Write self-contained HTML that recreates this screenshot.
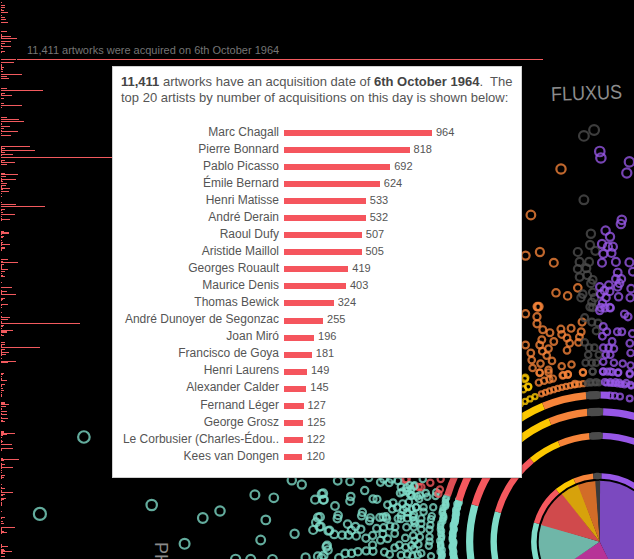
<!DOCTYPE html>
<html><head><meta charset="utf-8">
<style>
html,body{margin:0;padding:0;background:#000;width:634px;height:559px;overflow:hidden;font-family:"Liberation Sans",sans-serif;}
#bg{position:absolute;left:0;top:0;}
#hdr{position:absolute;left:27px;top:44px;font-size:11px;color:#757575;white-space:nowrap;line-height:13px;}
#box{position:absolute;left:112px;top:66px;width:408px;height:410px;background:#fff;border:1px solid #d0d0d0;box-shadow:1px 1px 1px rgba(0,0,0,0.15);}
#intro{position:absolute;left:8px;top:7px;font-size:13px;line-height:16px;color:#555;white-space:nowrap;}
#intro b{color:#444;}
.row{position:absolute;left:0;height:17px;width:408px;}
.nm{position:absolute;right:242px;top:0;font-size:12px;line-height:14px;color:#555;white-space:nowrap;}
.bar{position:absolute;left:171px;height:6px;background:#f5555d;}
.val{position:absolute;top:0px;font-size:11px;line-height:14px;color:#555;white-space:nowrap;}
#ph{position:absolute;left:169.5px;top:542px;font-size:18px;line-height:18px;color:#8a8a8a;transform:rotate(90deg);transform-origin:0 0;white-space:nowrap;}
#flux{position:absolute;left:551px;top:82.5px;font-size:20px;line-height:23px;color:#8c8c8c;transform:rotate(-2deg) scaleX(0.9);transform-origin:0 50%;white-space:nowrap;}
</style></head><body>
<svg id="bg" width="634" height="559" viewBox="0 0 634 559">
<g id="left" fill="#f25a5e"><rect x="1" y="2" width="1.0" height="1"/><rect x="1" y="5" width="4.0" height="1"/><rect x="1" y="7" width="4.0" height="1"/><rect x="1" y="9" width="1.0" height="1"/><rect x="1" y="10" width="3.0" height="1"/><rect x="1" y="12" width="7.0" height="1"/><rect x="1" y="15" width="1.0" height="1"/><rect x="1" y="17" width="4.0" height="1"/><rect x="1" y="19" width="5.0" height="1"/><rect x="1" y="22" width="7.0" height="1"/><rect x="1" y="31" width="6.0" height="1"/><rect x="1" y="34" width="1.0" height="1"/><rect x="1" y="35" width="1.0" height="1"/><rect x="1" y="36" width="10.0" height="1"/><rect x="1" y="37" width="1.0" height="1"/><rect x="1" y="38" width="16.0" height="1"/><rect x="1" y="41" width="10.0" height="1"/><rect x="1" y="43" width="4.0" height="1"/><rect x="1" y="45" width="1.0" height="1"/><rect x="1" y="46" width="10.0" height="1"/><rect x="1" y="48" width="2.0" height="1"/><rect x="1" y="51" width="4.0" height="1"/><rect x="1" y="52" width="1.0" height="1"/><rect x="1" y="59" width="15.0" height="1"/><rect x="1" y="62" width="13.0" height="1"/><rect x="1" y="64" width="1.0" height="1"/><rect x="1" y="65" width="1.0" height="1"/><rect x="1" y="66" width="1.0" height="1"/><rect x="1" y="67" width="3.0" height="1"/><rect x="1" y="68" width="1.0" height="1"/><rect x="1" y="69" width="2.0" height="1"/><rect x="1" y="71" width="2.0" height="1"/><rect x="1" y="74" width="21.0" height="1"/><rect x="1" y="76" width="6.0" height="1"/><rect x="1" y="78" width="8.0" height="1"/><rect x="1" y="88" width="6.0" height="1"/><rect x="1" y="90" width="42.0" height="1"/><rect x="1" y="93" width="4.0" height="1"/><rect x="1" y="94" width="1.0" height="1"/><rect x="1" y="95" width="11.0" height="1"/><rect x="1" y="98" width="3.0" height="1"/><rect x="1" y="103" width="3.0" height="1"/><rect x="1" y="105" width="21.0" height="1"/><rect x="1" y="107" width="1.0" height="1"/><rect x="1" y="117" width="6.0" height="1"/><rect x="1" y="119" width="18.0" height="1"/><rect x="1" y="121" width="23.0" height="1"/><rect x="1" y="123" width="1.0" height="1"/><rect x="1" y="124" width="1.0" height="1"/><rect x="1" y="126" width="9.0" height="1"/><rect x="1" y="128" width="3.0" height="1"/><rect x="1" y="130" width="1.0" height="1"/><rect x="1" y="131" width="17.0" height="1"/><rect x="1" y="133" width="1.0" height="1"/><rect x="1" y="135" width="10.0" height="1"/><rect x="1" y="146" width="29.0" height="1"/><rect x="1" y="147" width="1.0" height="1"/><rect x="1" y="148" width="4.0" height="1"/><rect x="1" y="149" width="1.0" height="1"/><rect x="1" y="150" width="34.0" height="1"/><rect x="1" y="151" width="1.0" height="1"/><rect x="1" y="152" width="4.0" height="1"/><rect x="1" y="154" width="12.0" height="1"/><rect x="1" y="155" width="1.0" height="1"/><rect x="1" y="157" width="111.0" height="1"/><rect x="1" y="160" width="4.0" height="1"/><rect x="1" y="161" width="1.0" height="1"/><rect x="1" y="162" width="14.0" height="1"/><rect x="1" y="164" width="6.0" height="1"/><rect x="1" y="173" width="4.0" height="1"/><rect x="1" y="174" width="17.0" height="1"/><rect x="1" y="176" width="5.0" height="1"/><rect x="1" y="178" width="1.0" height="1"/><rect x="1" y="179" width="15.0" height="1"/><rect x="1" y="180" width="1.0" height="1"/><rect x="1" y="181" width="2.0" height="1"/><rect x="1" y="183" width="6.0" height="1"/><rect x="1" y="185" width="5.0" height="1"/><rect x="1" y="186" width="1.0" height="1"/><rect x="1" y="187" width="1.0" height="1"/><rect x="1" y="188" width="9.0" height="1"/><rect x="1" y="189" width="2.0" height="1"/><rect x="1" y="191" width="8.0" height="1"/><rect x="1" y="193" width="1.0" height="1"/><rect x="1" y="196" width="1.0" height="1"/><rect x="1" y="202" width="1.0" height="1"/><rect x="1" y="204" width="15.0" height="1"/><rect x="1" y="206" width="44.0" height="1"/><rect x="1" y="209" width="4.0" height="1"/><rect x="1" y="210" width="1.0" height="1"/><rect x="1" y="212" width="2.0" height="1"/><rect x="1" y="214" width="14.0" height="1"/><rect x="1" y="216" width="1.0" height="1"/><rect x="1" y="218" width="1.0" height="1"/><rect x="1" y="219" width="9.0" height="1"/><rect x="1" y="220" width="1.0" height="1"/><rect x="1" y="231" width="3.0" height="1"/><rect x="1" y="232" width="8.0" height="1"/><rect x="1" y="233" width="8.0" height="1"/><rect x="1" y="234" width="1.0" height="1"/><rect x="1" y="236" width="3.0" height="1"/><rect x="1" y="237" width="2.0" height="1"/><rect x="1" y="240" width="1.0" height="1"/><rect x="1" y="242" width="2.0" height="1"/><rect x="1" y="243" width="1.0" height="1"/><rect x="1" y="244" width="9.0" height="1"/><rect x="1" y="245" width="1.0" height="1"/><rect x="1" y="247" width="4.0" height="1"/><rect x="1" y="248" width="4.0" height="1"/><rect x="1" y="249" width="1.0" height="1"/><rect x="1" y="250" width="1.0" height="1"/><rect x="1" y="259" width="7.0" height="1"/><rect x="1" y="261" width="2.0" height="1"/><rect x="1" y="262" width="17.0" height="1"/><rect x="1" y="264" width="3.0" height="1"/><rect x="1" y="265" width="1.0" height="1"/><rect x="1" y="266" width="1.0" height="1"/><rect x="1" y="267" width="1.0" height="1"/><rect x="1" y="268" width="1.0" height="1"/><rect x="1" y="269" width="7.0" height="1"/><rect x="1" y="271" width="4.0" height="1"/><rect x="1" y="273" width="1.0" height="1"/><rect x="1" y="275" width="2.0" height="1"/><rect x="1" y="276" width="4.0" height="1"/><rect x="1" y="282" width="1.0" height="1"/><rect x="1" y="287" width="11.0" height="1"/><rect x="1" y="290" width="1.0" height="1"/><rect x="1" y="291" width="6.0" height="1"/><rect x="1" y="292" width="1.0" height="1"/><rect x="1" y="293" width="1.0" height="1"/><rect x="1" y="294" width="15.0" height="1"/><rect x="1" y="298" width="4.0" height="1"/><rect x="1" y="299" width="2.0" height="1"/><rect x="1" y="300" width="1.0" height="1"/><rect x="1" y="304" width="7.0" height="1"/><rect x="1" y="305" width="1.0" height="1"/><rect x="1" y="307" width="1.0" height="1"/><rect x="1" y="312" width="1.0" height="1"/><rect x="1" y="316" width="1.0" height="1"/><rect x="1" y="317" width="9.0" height="1"/><rect x="1" y="319" width="7.0" height="1"/><rect x="1" y="321" width="1.0" height="1"/><rect x="1" y="322" width="1.0" height="1"/><rect x="1" y="323" width="79.0" height="1"/><rect x="1" y="325" width="3.0" height="1"/><rect x="1" y="326" width="2.0" height="1"/><rect x="1" y="328" width="1.0" height="1"/><rect x="1" y="330" width="12.0" height="1"/><rect x="1" y="331" width="6.0" height="1"/><rect x="1" y="332" width="6.0" height="1"/><rect x="1" y="334" width="1.0" height="1"/><rect x="1" y="335" width="3.0" height="1"/><rect x="1" y="342" width="4.0" height="1"/><rect x="1" y="344" width="4.0" height="1"/><rect x="1" y="345" width="1.0" height="1"/><rect x="1" y="346" width="1.0" height="1"/><rect x="1" y="347" width="39.0" height="1"/><rect x="1" y="349" width="4.0" height="1"/><rect x="1" y="350" width="1.0" height="1"/><rect x="1" y="351" width="1.0" height="1"/><rect x="1" y="352" width="8.0" height="1"/><rect x="1" y="353" width="1.0" height="1"/><rect x="1" y="354" width="5.0" height="1"/><rect x="1" y="355" width="1.0" height="1"/><rect x="1" y="358" width="1.0" height="1"/><rect x="1" y="361" width="15.0" height="1"/><rect x="1" y="362" width="7.0" height="1"/><rect x="1" y="373" width="3.0" height="1"/><rect x="1" y="374" width="2.0" height="1"/><rect x="1" y="376" width="1.0" height="1"/><rect x="1" y="378" width="1.0" height="1"/><rect x="1" y="379" width="1.0" height="1"/><rect x="1" y="380" width="6.0" height="1"/><rect x="1" y="384" width="4.0" height="1"/><rect x="1" y="385" width="1.0" height="1"/><rect x="1" y="386" width="1.0" height="1"/><rect x="1" y="388" width="2.0" height="1"/><rect x="1" y="390" width="3.0" height="1"/><rect x="1" y="392" width="1.0" height="1"/><rect x="1" y="394" width="1.0" height="1"/><rect x="1" y="395" width="1.0" height="1"/><rect x="1" y="396" width="1.0" height="1"/><rect x="1" y="402" width="4.0" height="1"/><rect x="1" y="403" width="4.0" height="1"/><rect x="1" y="404" width="8.0" height="1"/><rect x="1" y="406" width="5.0" height="1"/><rect x="1" y="408" width="1.0" height="1"/><rect x="1" y="409" width="1.0" height="1"/><rect x="1" y="411" width="6.0" height="1"/><rect x="1" y="413" width="1.0" height="1"/><rect x="1" y="414" width="6.0" height="1"/><rect x="1" y="417" width="1.0" height="1"/><rect x="1" y="418" width="7.0" height="1"/><rect x="1" y="420" width="2.0" height="1"/><rect x="1" y="421" width="4.0" height="1"/><rect x="1" y="431" width="3.0" height="1"/><rect x="1" y="432" width="3.0" height="1"/><rect x="1" y="433" width="14.0" height="1"/><rect x="1" y="434" width="6.0" height="1"/><rect x="1" y="435" width="2.0" height="1"/><rect x="1" y="437" width="1.0" height="1"/><rect x="1" y="440" width="1.0" height="1"/><rect x="1" y="441" width="2.0" height="1"/><rect x="1" y="442" width="1.0" height="1"/><rect x="1" y="444" width="11.0" height="1"/><rect x="1" y="448" width="12.0" height="1"/><rect x="1" y="449" width="1.0" height="1"/><rect x="1" y="450" width="1.0" height="1"/><rect x="1" y="458" width="2.0" height="1"/><rect x="1" y="459" width="18.0" height="1"/><rect x="1" y="460" width="3.0" height="1"/><rect x="1" y="463" width="1.0" height="1"/><rect x="1" y="464" width="4.0" height="1"/><rect x="1" y="465" width="1.0" height="1"/><rect x="1" y="466" width="1.0" height="1"/><rect x="1" y="467" width="12.0" height="1"/><rect x="1" y="468" width="1.0" height="1"/><rect x="1" y="470" width="1.0" height="1"/><rect x="1" y="472" width="1.0" height="1"/><rect x="1" y="475" width="4.0" height="1"/><rect x="1" y="476" width="1.0" height="1"/><rect x="1" y="477" width="3.0" height="1"/><rect x="1" y="478" width="1.0" height="1"/><rect x="1" y="484" width="1.0" height="1"/><rect x="1" y="487" width="1.0" height="1"/><rect x="1" y="488" width="4.0" height="1"/><rect x="1" y="490" width="1.0" height="1"/><rect x="1" y="491" width="1.0" height="1"/><rect x="1" y="492" width="12.0" height="1"/><rect x="1" y="494" width="4.0" height="1"/><rect x="1" y="495" width="2.0" height="1"/><rect x="1" y="498" width="5.0" height="1"/><rect x="1" y="499" width="3.0" height="1"/><rect x="1" y="500" width="1.0" height="1"/><rect x="1" y="502" width="1.0" height="1"/><rect x="1" y="503" width="1.0" height="1"/><rect x="1" y="504" width="1.0" height="1"/><rect x="1" y="505" width="1.0" height="1"/><rect x="1" y="511" width="1.0" height="1"/><rect x="1" y="517" width="4.0" height="1"/><rect x="1" y="518" width="1.0" height="1"/><rect x="1" y="521" width="2.0" height="1"/><rect x="1" y="523" width="3.0" height="1"/><rect x="1" y="527" width="14.0" height="1"/><rect x="1" y="528" width="1.0" height="1"/><rect x="1" y="529" width="1.0" height="1"/><rect x="1" y="530" width="1.0" height="1"/><rect x="1" y="531" width="3.0" height="1"/><rect x="1" y="532" width="6.0" height="1"/><rect x="1" y="533" width="1.0" height="1"/><rect x="1" y="544" width="1.0" height="1"/><rect x="1" y="545" width="1.0" height="1"/><rect x="1" y="546" width="7.0" height="1"/><rect x="1" y="547" width="1.0" height="1"/><rect x="1" y="549" width="3.0" height="1"/><rect x="1" y="550" width="4.0" height="1"/><rect x="1" y="551" width="11.0" height="1"/><rect x="1" y="552" width="2.0" height="1"/><rect x="1" y="553" width="4.0" height="1"/><rect x="1" y="556" width="4.0" height="1"/></g>
<rect x="17" y="59" width="526" height="1" fill="#f25a5e"/>
<path d="M599.7,541.8L599.27,480.80A61,61 0 0 1 626.06,596.81Z" fill="#7b49bf"/>
<path d="M599.7,541.8L626.82,596.44A61,61 0 0 1 548.89,575.56Z" fill="#b73397"/>
<path d="M599.7,541.8L549.37,576.26A61,61 0 0 1 541.33,524.07Z" fill="#6fb6a8"/>
<path d="M599.7,541.8L541.09,524.88A61,61 0 0 1 562.48,493.47Z" fill="#d04a4c"/>
<path d="M599.7,541.8L561.81,493.99A61,61 0 0 1 578.54,484.59Z" fill="#d7a20b"/>
<path d="M599.7,541.8L577.74,484.89A61,61 0 0 1 596.08,480.91Z" fill="#d26c28"/>
<path d="M599.7,541.8L595.23,480.96A61,61 0 0 1 600.13,480.80Z" fill="#3a3a3a"/>
<path d="M549.29,584.10A65.8,65.8 0 0 1 536.54,523.33" stroke="#7fdcc9" stroke-width="5.6" fill="none" opacity="1.0"/>
<path d="M536.54,523.33A65.8,65.8 0 0 1 557.58,491.25" stroke="#f5585e" stroke-width="5.6" fill="none" opacity="1.0"/>
<path d="M557.58,491.25A65.8,65.8 0 0 1 574.52,481.01" stroke="#fcc800" stroke-width="5.6" fill="none" opacity="1.0"/>
<path d="M574.52,481.01A65.8,65.8 0 0 1 593.39,476.30" stroke="#f6843a" stroke-width="5.6" fill="none" opacity="1.0"/>
<path d="M593.39,476.30A65.8,65.8 0 0 1 601.42,476.02" stroke="#4b4b4b" stroke-width="5.6" fill="none" opacity="1.0"/>
<path d="M601.42,476.02A65.8,65.8 0 0 1 656.68,508.90" stroke="#9757e6" stroke-width="5.6" fill="none" opacity="1.0"/>
<path d="M518.50,609.94A106,106 0 0 1 497.96,512.05" stroke="#7fdcc9" stroke-width="6.4" fill="none" opacity="1.0"/>
<path d="M497.96,512.05A106,106 0 0 1 531.85,460.36" stroke="#f5585e" stroke-width="6.4" fill="none" opacity="1.0"/>
<path d="M531.85,460.36A106,106 0 0 1 559.14,443.87" stroke="#fcc800" stroke-width="6.4" fill="none" opacity="1.0"/>
<path d="M559.14,443.87A106,106 0 0 1 589.54,436.29" stroke="#f6843a" stroke-width="6.4" fill="none" opacity="1.0"/>
<path d="M589.54,436.29A106,106 0 0 1 602.47,435.84" stroke="#4b4b4b" stroke-width="6.4" fill="none" opacity="1.0"/>
<path d="M602.47,435.84A106,106 0 0 1 691.50,488.80" stroke="#9757e6" stroke-width="6.4" fill="none" opacity="1.0"/>
<path d="M500.11,625.36A130,130 0 0 1 474.93,505.31" stroke="#7fdcc9" stroke-width="7.2" fill="none" opacity="1.0"/>
<path d="M474.93,505.31A130,130 0 0 1 516.49,441.92" stroke="#f5585e" stroke-width="7.2" fill="none" opacity="1.0"/>
<path d="M516.49,441.92A130,130 0 0 1 549.95,421.70" stroke="#fcc800" stroke-width="7.2" fill="none" opacity="1.0"/>
<path d="M549.95,421.70A130,130 0 0 1 587.24,412.40" stroke="#f6843a" stroke-width="7.2" fill="none" opacity="1.0"/>
<path d="M587.24,412.40A130,130 0 0 1 603.10,411.84" stroke="#4b4b4b" stroke-width="7.2" fill="none" opacity="1.0"/>
<path d="M603.10,411.84A130,130 0 0 1 712.28,476.80" stroke="#9757e6" stroke-width="7.2" fill="none" opacity="1.0"/>
<circle cx="459.62" cy="584.63" r="2.5" fill="none" stroke="#7fdcc9" stroke-width="2.6" stroke-opacity="0.85"/>
<circle cx="458.70" cy="583.63" r="2.5" fill="none" stroke="#7fdcc9" stroke-width="2.6" stroke-opacity="0.85"/>
<circle cx="458.59" cy="582.50" r="2.5" fill="none" stroke="#7fdcc9" stroke-width="2.6" stroke-opacity="0.85"/>
<circle cx="459.01" cy="580.83" r="2.5" fill="none" stroke="#7fdcc9" stroke-width="2.6" stroke-opacity="0.85"/>
<circle cx="458.61" cy="579.21" r="2.5" fill="none" stroke="#7fdcc9" stroke-width="2.6" stroke-opacity="0.85"/>
<circle cx="458.16" cy="577.71" r="2.5" fill="none" stroke="#7fdcc9" stroke-width="2.6" stroke-opacity="0.85"/>
<circle cx="457.26" cy="576.76" r="2.5" fill="none" stroke="#7fdcc9" stroke-width="2.6" stroke-opacity="0.85"/>
<circle cx="457.31" cy="574.61" r="2.5" fill="none" stroke="#7fdcc9" stroke-width="2.6" stroke-opacity="0.85"/>
<circle cx="456.14" cy="573.53" r="2.5" fill="none" stroke="#7fdcc9" stroke-width="2.6" stroke-opacity="0.85"/>
<circle cx="455.76" cy="571.32" r="2.5" fill="none" stroke="#7fdcc9" stroke-width="2.6" stroke-opacity="0.85"/>
<circle cx="454.75" cy="569.96" r="2.5" fill="none" stroke="#7fdcc9" stroke-width="2.6" stroke-opacity="0.85"/>
<circle cx="454.76" cy="568.84" r="2.5" fill="none" stroke="#7fdcc9" stroke-width="2.6" stroke-opacity="0.85"/>
<circle cx="455.77" cy="567.24" r="2.5" fill="none" stroke="#7fdcc9" stroke-width="2.6" stroke-opacity="0.85"/>
<circle cx="455.28" cy="566.14" r="2.5" fill="none" stroke="#7fdcc9" stroke-width="2.6" stroke-opacity="0.85"/>
<circle cx="455.18" cy="564.06" r="2.5" fill="none" stroke="#7fdcc9" stroke-width="2.6" stroke-opacity="0.85"/>
<circle cx="454.10" cy="562.43" r="2.5" fill="none" stroke="#7fdcc9" stroke-width="2.6" stroke-opacity="0.85"/>
<circle cx="454.06" cy="560.92" r="2.5" fill="none" stroke="#7fdcc9" stroke-width="2.6" stroke-opacity="0.85"/>
<circle cx="454.80" cy="559.72" r="2.5" fill="none" stroke="#7fdcc9" stroke-width="2.6" stroke-opacity="0.85"/>
<circle cx="453.53" cy="558.57" r="2.5" fill="none" stroke="#7fdcc9" stroke-width="2.6" stroke-opacity="0.85"/>
<circle cx="454.02" cy="556.94" r="2.5" fill="none" stroke="#7fdcc9" stroke-width="2.6" stroke-opacity="0.85"/>
<circle cx="453.60" cy="555.20" r="2.5" fill="none" stroke="#7fdcc9" stroke-width="2.6" stroke-opacity="0.85"/>
<circle cx="452.86" cy="553.85" r="2.5" fill="none" stroke="#7fdcc9" stroke-width="2.6" stroke-opacity="0.85"/>
<circle cx="453.71" cy="551.86" r="2.5" fill="none" stroke="#7fdcc9" stroke-width="2.6" stroke-opacity="0.85"/>
<circle cx="453.09" cy="550.13" r="2.5" fill="none" stroke="#7fdcc9" stroke-width="2.6" stroke-opacity="0.85"/>
<circle cx="452.62" cy="548.00" r="2.5" fill="none" stroke="#7fdcc9" stroke-width="2.6" stroke-opacity="0.85"/>
<circle cx="452.11" cy="546.62" r="2.5" fill="none" stroke="#7fdcc9" stroke-width="2.6" stroke-opacity="0.85"/>
<circle cx="453.09" cy="545.41" r="2.5" fill="none" stroke="#7fdcc9" stroke-width="2.6" stroke-opacity="0.85"/>
<circle cx="453.54" cy="543.42" r="2.5" fill="none" stroke="#7fdcc9" stroke-width="2.6" stroke-opacity="0.85"/>
<circle cx="453.73" cy="541.77" r="2.5" fill="none" stroke="#7fdcc9" stroke-width="2.6" stroke-opacity="0.85"/>
<circle cx="452.44" cy="539.89" r="2.5" fill="none" stroke="#7fdcc9" stroke-width="2.6" stroke-opacity="0.85"/>
<circle cx="452.27" cy="538.12" r="2.5" fill="none" stroke="#7fdcc9" stroke-width="2.6" stroke-opacity="0.85"/>
<circle cx="452.64" cy="536.69" r="2.5" fill="none" stroke="#7fdcc9" stroke-width="2.6" stroke-opacity="0.85"/>
<circle cx="452.92" cy="534.92" r="2.5" fill="none" stroke="#7fdcc9" stroke-width="2.6" stroke-opacity="0.85"/>
<circle cx="452.53" cy="533.28" r="2.5" fill="none" stroke="#7fdcc9" stroke-width="2.6" stroke-opacity="0.85"/>
<circle cx="453.34" cy="531.09" r="2.5" fill="none" stroke="#7fdcc9" stroke-width="2.6" stroke-opacity="0.85"/>
<circle cx="454.23" cy="529.28" r="2.5" fill="none" stroke="#7fdcc9" stroke-width="2.6" stroke-opacity="0.85"/>
<circle cx="453.35" cy="527.27" r="2.5" fill="none" stroke="#7fdcc9" stroke-width="2.6" stroke-opacity="0.85"/>
<circle cx="453.29" cy="524.95" r="2.5" fill="none" stroke="#7fdcc9" stroke-width="2.6" stroke-opacity="0.85"/>
<circle cx="454.23" cy="523.66" r="2.5" fill="none" stroke="#7fdcc9" stroke-width="2.6" stroke-opacity="0.85"/>
<circle cx="455.12" cy="521.89" r="2.5" fill="none" stroke="#7fdcc9" stroke-width="2.6" stroke-opacity="0.85"/>
<circle cx="455.09" cy="520.26" r="2.5" fill="none" stroke="#7fdcc9" stroke-width="2.6" stroke-opacity="0.85"/>
<circle cx="455.46" cy="519.13" r="2.5" fill="none" stroke="#7fdcc9" stroke-width="2.6" stroke-opacity="0.85"/>
<circle cx="455.66" cy="517.14" r="2.5" fill="none" stroke="#7fdcc9" stroke-width="2.6" stroke-opacity="0.85"/>
<circle cx="455.43" cy="515.74" r="2.5" fill="none" stroke="#7fdcc9" stroke-width="2.6" stroke-opacity="0.85"/>
<circle cx="456.37" cy="513.75" r="2.5" fill="none" stroke="#7fdcc9" stroke-width="2.6" stroke-opacity="0.85"/>
<circle cx="455.86" cy="512.01" r="2.5" fill="none" stroke="#7fdcc9" stroke-width="2.6" stroke-opacity="0.85"/>
<circle cx="455.84" cy="509.80" r="2.5" fill="none" stroke="#7fdcc9" stroke-width="2.6" stroke-opacity="0.85"/>
<circle cx="457.27" cy="507.94" r="2.5" fill="none" stroke="#7fdcc9" stroke-width="2.6" stroke-opacity="0.85"/>
<circle cx="457.50" cy="506.39" r="2.5" fill="none" stroke="#7fdcc9" stroke-width="2.6" stroke-opacity="0.85"/>
<circle cx="456.99" cy="504.03" r="2.5" fill="none" stroke="#7fdcc9" stroke-width="2.6" stroke-opacity="0.85"/>
<circle cx="458.66" cy="503.22" r="2.5" fill="none" stroke="#7fdcc9" stroke-width="2.6" stroke-opacity="0.85"/>
<circle cx="458.92" cy="501.92" r="2.5" fill="none" stroke="#7fdcc9" stroke-width="2.6" stroke-opacity="0.85"/>
<circle cx="458.76" cy="500.17" r="2.5" fill="none" stroke="#7fdcc9" stroke-width="2.6" stroke-opacity="0.85"/>
<path d="M458.80,500.60A146.8,146.8 0 0 1 505.73,429.02" stroke="#f5585e" stroke-width="7.2" fill="none" opacity="1.0"/>
<path d="M505.73,429.02A146.8,146.8 0 0 1 543.52,406.17" stroke="#fcc800" stroke-width="7.2" fill="none" opacity="1.0"/>
<path d="M543.52,406.17A146.8,146.8 0 0 1 586.14,395.63" stroke="#f6843a" stroke-width="7.2" fill="none" opacity="1.0"/>
<path d="M586.14,395.63A146.8,146.8 0 0 1 600.47,395.00" stroke="#4b4b4b" stroke-width="7.2" fill="none" opacity="1.0"/>
<path d="M600.47,395.00A146.8,146.8 0 0 1 609.94,395.36" stroke="#9757e6" stroke-width="7.2" fill="none" opacity="1.0"/>
<circle cx="451.50" cy="595.74" r="2.5" fill="none" stroke="#7fdcc9" stroke-width="2.5" stroke-opacity="0.8"/>
<circle cx="449.91" cy="594.11" r="2.5" fill="none" stroke="#7fdcc9" stroke-width="2.5" stroke-opacity="0.8"/>
<circle cx="447.72" cy="592.38" r="2.5" fill="none" stroke="#7fdcc9" stroke-width="2.5" stroke-opacity="0.8"/>
<circle cx="448.02" cy="589.61" r="2.5" fill="none" stroke="#7fdcc9" stroke-width="2.5" stroke-opacity="0.8"/>
<circle cx="446.91" cy="587.42" r="2.5" fill="none" stroke="#7fdcc9" stroke-width="2.5" stroke-opacity="0.8"/>
<circle cx="445.93" cy="586.16" r="2.5" fill="none" stroke="#7fdcc9" stroke-width="2.5" stroke-opacity="0.8"/>
<circle cx="445.27" cy="583.54" r="2.5" fill="none" stroke="#7fdcc9" stroke-width="2.5" stroke-opacity="0.8"/>
<circle cx="445.79" cy="580.59" r="2.5" fill="none" stroke="#7fdcc9" stroke-width="2.5" stroke-opacity="0.8"/>
<circle cx="446.03" cy="578.42" r="2.5" fill="none" stroke="#7fdcc9" stroke-width="2.5" stroke-opacity="0.8"/>
<circle cx="445.59" cy="576.03" r="2.5" fill="none" stroke="#7fdcc9" stroke-width="2.5" stroke-opacity="0.8"/>
<circle cx="444.91" cy="574.66" r="2.5" fill="none" stroke="#7fdcc9" stroke-width="2.5" stroke-opacity="0.8"/>
<circle cx="444.24" cy="573.11" r="2.5" fill="none" stroke="#7fdcc9" stroke-width="2.5" stroke-opacity="0.8"/>
<circle cx="444.82" cy="571.50" r="2.5" fill="none" stroke="#7fdcc9" stroke-width="2.5" stroke-opacity="0.8"/>
<circle cx="444.26" cy="569.95" r="2.5" fill="none" stroke="#7fdcc9" stroke-width="2.5" stroke-opacity="0.8"/>
<circle cx="444.12" cy="567.97" r="2.5" fill="none" stroke="#7fdcc9" stroke-width="2.5" stroke-opacity="0.8"/>
<circle cx="442.16" cy="565.41" r="2.5" fill="none" stroke="#7fdcc9" stroke-width="2.5" stroke-opacity="0.8"/>
<circle cx="442.86" cy="563.66" r="2.5" fill="none" stroke="#7fdcc9" stroke-width="2.5" stroke-opacity="0.8"/>
<circle cx="442.31" cy="561.75" r="2.5" fill="none" stroke="#7fdcc9" stroke-width="2.5" stroke-opacity="0.8"/>
<circle cx="440.87" cy="560.32" r="2.5" fill="none" stroke="#7fdcc9" stroke-width="2.5" stroke-opacity="0.8"/>
<circle cx="441.53" cy="557.18" r="2.5" fill="none" stroke="#7fdcc9" stroke-width="2.5" stroke-opacity="0.8"/>
<circle cx="442.32" cy="554.92" r="2.5" fill="none" stroke="#7fdcc9" stroke-width="2.5" stroke-opacity="0.8"/>
<circle cx="441.54" cy="553.42" r="2.5" fill="none" stroke="#7fdcc9" stroke-width="2.5" stroke-opacity="0.8"/>
<circle cx="440.15" cy="551.68" r="2.5" fill="none" stroke="#7fdcc9" stroke-width="2.5" stroke-opacity="0.8"/>
<circle cx="442.15" cy="549.91" r="2.5" fill="none" stroke="#7fdcc9" stroke-width="2.5" stroke-opacity="0.8"/>
<circle cx="440.71" cy="547.01" r="2.5" fill="none" stroke="#7fdcc9" stroke-width="2.5" stroke-opacity="0.8"/>
<circle cx="440.63" cy="545.38" r="2.5" fill="none" stroke="#7fdcc9" stroke-width="2.5" stroke-opacity="0.8"/>
<circle cx="440.64" cy="543.95" r="2.5" fill="none" stroke="#7fdcc9" stroke-width="2.5" stroke-opacity="0.8"/>
<circle cx="439.76" cy="540.92" r="2.5" fill="none" stroke="#7fdcc9" stroke-width="2.5" stroke-opacity="0.8"/>
<circle cx="441.36" cy="538.39" r="2.5" fill="none" stroke="#7fdcc9" stroke-width="2.5" stroke-opacity="0.8"/>
<circle cx="441.66" cy="536.41" r="2.5" fill="none" stroke="#7fdcc9" stroke-width="2.5" stroke-opacity="0.8"/>
<circle cx="440.82" cy="533.71" r="2.5" fill="none" stroke="#7fdcc9" stroke-width="2.5" stroke-opacity="0.8"/>
<circle cx="441.51" cy="531.06" r="2.5" fill="none" stroke="#7fdcc9" stroke-width="2.5" stroke-opacity="0.8"/>
<circle cx="440.39" cy="529.22" r="2.5" fill="none" stroke="#7fdcc9" stroke-width="2.5" stroke-opacity="0.8"/>
<circle cx="440.55" cy="526.17" r="2.5" fill="none" stroke="#7fdcc9" stroke-width="2.5" stroke-opacity="0.8"/>
<circle cx="440.93" cy="523.45" r="2.5" fill="none" stroke="#7fdcc9" stroke-width="2.5" stroke-opacity="0.8"/>
<circle cx="442.78" cy="521.04" r="2.5" fill="none" stroke="#7fdcc9" stroke-width="2.5" stroke-opacity="0.8"/>
<circle cx="442.76" cy="518.78" r="2.5" fill="none" stroke="#7fdcc9" stroke-width="2.5" stroke-opacity="0.8"/>
<circle cx="443.81" cy="517.49" r="2.5" fill="none" stroke="#7fdcc9" stroke-width="2.5" stroke-opacity="0.8"/>
<circle cx="443.51" cy="515.58" r="2.5" fill="none" stroke="#7fdcc9" stroke-width="2.5" stroke-opacity="0.8"/>
<circle cx="442.17" cy="512.76" r="2.5" fill="none" stroke="#7fdcc9" stroke-width="2.5" stroke-opacity="0.8"/>
<circle cx="442.62" cy="510.66" r="2.5" fill="none" stroke="#7fdcc9" stroke-width="2.5" stroke-opacity="0.8"/>
<circle cx="443.20" cy="507.66" r="2.5" fill="none" stroke="#7fdcc9" stroke-width="2.5" stroke-opacity="0.8"/>
<circle cx="445.50" cy="506.13" r="2.5" fill="none" stroke="#7fdcc9" stroke-width="2.5" stroke-opacity="0.8"/>
<circle cx="445.97" cy="504.43" r="2.5" fill="none" stroke="#7fdcc9" stroke-width="2.5" stroke-opacity="0.8"/>
<circle cx="445.30" cy="502.49" r="2.5" fill="none" stroke="#7fdcc9" stroke-width="2.5" stroke-opacity="0.8"/>
<circle cx="445.50" cy="499.54" r="2.5" fill="none" stroke="#7fdcc9" stroke-width="2.5" stroke-opacity="0.8"/>
<circle cx="446.56" cy="497.56" r="2.5" fill="none" stroke="#7fdcc9" stroke-width="2.5" stroke-opacity="0.8"/>
<path d="M447.49,495.84A159,159 0 0 1 497.92,419.64" stroke="#f5585e" stroke-width="6.8" fill="none" opacity="0.9"/>
<circle cx="501.81" cy="416.51" r="2.5" fill="none" stroke="#fcc800" stroke-width="2.3" stroke-opacity="0.8"/>
<circle cx="506.24" cy="413.17" r="2.5" fill="none" stroke="#fcc800" stroke-width="2.3" stroke-opacity="0.8"/>
<circle cx="510.79" cy="409.98" r="2.5" fill="none" stroke="#fcc800" stroke-width="2.3" stroke-opacity="0.8"/>
<circle cx="515.44" cy="406.96" r="2.5" fill="none" stroke="#fcc800" stroke-width="2.3" stroke-opacity="0.8"/>
<circle cx="520.20" cy="404.10" r="2.5" fill="none" stroke="#fcc800" stroke-width="2.3" stroke-opacity="0.8"/>
<circle cx="525.05" cy="401.41" r="2.5" fill="none" stroke="#fcc800" stroke-width="2.3" stroke-opacity="0.8"/>
<circle cx="530.00" cy="398.89" r="2.5" fill="none" stroke="#fcc800" stroke-width="2.3" stroke-opacity="0.8"/>
<circle cx="535.03" cy="396.55" r="2.5" fill="none" stroke="#fcc800" stroke-width="2.3" stroke-opacity="0.8"/>
<circle cx="541.43" cy="393.86" r="2.5" fill="none" stroke="#f6843a" stroke-width="2.3" stroke-opacity="0.8"/>
<circle cx="545.45" cy="392.34" r="2.5" fill="none" stroke="#f6843a" stroke-width="2.3" stroke-opacity="0.8"/>
<circle cx="549.51" cy="390.93" r="2.5" fill="none" stroke="#f6843a" stroke-width="2.3" stroke-opacity="0.8"/>
<circle cx="553.61" cy="389.63" r="2.5" fill="none" stroke="#f6843a" stroke-width="2.3" stroke-opacity="0.8"/>
<circle cx="557.74" cy="388.44" r="2.5" fill="none" stroke="#f6843a" stroke-width="2.3" stroke-opacity="0.8"/>
<circle cx="561.91" cy="387.36" r="2.5" fill="none" stroke="#f6843a" stroke-width="2.3" stroke-opacity="0.8"/>
<circle cx="566.10" cy="386.39" r="2.5" fill="none" stroke="#f6843a" stroke-width="2.3" stroke-opacity="0.8"/>
<circle cx="570.32" cy="385.54" r="2.5" fill="none" stroke="#f6843a" stroke-width="2.3" stroke-opacity="0.8"/>
<circle cx="574.55" cy="384.80" r="2.5" fill="none" stroke="#f6843a" stroke-width="2.3" stroke-opacity="0.8"/>
<circle cx="578.81" cy="384.18" r="2.5" fill="none" stroke="#f6843a" stroke-width="2.3" stroke-opacity="0.8"/>
<circle cx="583.08" cy="383.67" r="2.5" fill="none" stroke="#f6843a" stroke-width="2.3" stroke-opacity="0.8"/>
<circle cx="587.23" cy="383.29" r="2.5" fill="none" stroke="#4b4b4b" stroke-width="2.3" stroke-opacity="0.8"/>
<circle cx="591.10" cy="383.03" r="2.5" fill="none" stroke="#4b4b4b" stroke-width="2.3" stroke-opacity="0.8"/>
<circle cx="594.98" cy="382.87" r="2.5" fill="none" stroke="#4b4b4b" stroke-width="2.3" stroke-opacity="0.8"/>
<circle cx="598.87" cy="382.80" r="2.5" fill="none" stroke="#4b4b4b" stroke-width="2.3" stroke-opacity="0.8"/>
<circle cx="606.64" cy="382.95" r="2.5" fill="none" stroke="#9757e6" stroke-width="2.3" stroke-opacity="0.8"/>
<circle cx="610.24" cy="383.15" r="2.5" fill="none" stroke="#9757e6" stroke-width="2.3" stroke-opacity="0.8"/>
<circle cx="613.83" cy="383.43" r="2.5" fill="none" stroke="#9757e6" stroke-width="2.3" stroke-opacity="0.8"/>
<circle cx="617.42" cy="383.79" r="2.5" fill="none" stroke="#9757e6" stroke-width="2.3" stroke-opacity="0.8"/>
<circle cx="621.00" cy="384.23" r="2.5" fill="none" stroke="#9757e6" stroke-width="2.3" stroke-opacity="0.8"/>
<circle cx="624.57" cy="384.76" r="2.5" fill="none" stroke="#9757e6" stroke-width="2.3" stroke-opacity="0.8"/>
<circle cx="631.40" cy="385.99" r="2.5" fill="none" stroke="#9757e6" stroke-width="2.3" stroke-opacity="0.8"/>
<circle cx="637.90" cy="387.46" r="2.5" fill="none" stroke="#9757e6" stroke-width="2.3" stroke-opacity="0.8"/>
<path d="M596.60,476.07A65.8,65.8 0 0 1 598.21,476.02" stroke="#4b4b4b" stroke-width="6.4" stroke-linecap="round" fill="none"/>
<path d="M593.04,436.01A106,106 0 0 1 598.96,435.80" stroke="#4b4b4b" stroke-width="7.6" stroke-linecap="round" fill="none"/>
<path d="M591.31,412.07A130,130 0 0 1 599.02,411.80" stroke="#4b4b4b" stroke-width="8.2" stroke-linecap="round" fill="none"/>
<path d="M589.97,395.32A146.8,146.8 0 0 1 596.63,395.03" stroke="#4b4b4b" stroke-width="8.2" stroke-linecap="round" fill="none"/>
<g id="circles" fill="none" stroke-width="2.2" stroke-opacity="0.78"><circle cx="39.9" cy="513.9" r="6.03" stroke="#7fdcc9"/>
<circle cx="83.9" cy="437" r="5.77" stroke="#7fdcc9"/>
<circle cx="151.7" cy="505" r="5.20" stroke="#7fdcc9"/>
<circle cx="202.8" cy="518" r="4.81" stroke="#7fdcc9"/>
<circle cx="220" cy="511" r="4.68" stroke="#7fdcc9"/>
<circle cx="184.6" cy="543.8" r="4.94" stroke="#7fdcc9"/>
<circle cx="254.9" cy="494.9" r="4.43" stroke="#7fdcc9"/>
<circle cx="273.8" cy="497.8" r="4.29" stroke="#7fdcc9"/>
<circle cx="291.8" cy="480.2" r="4.18" stroke="#7fdcc9"/>
<circle cx="301.8" cy="484.5" r="4.10" stroke="#7fdcc9"/>
<circle cx="265.8" cy="519.9" r="4.33" stroke="#7fdcc9"/>
<circle cx="260.7" cy="540" r="4.37" stroke="#7fdcc9"/>
<circle cx="294.6" cy="533.7" r="4.11" stroke="#7fdcc9"/>
<circle cx="315.1" cy="499.7" r="3.98" stroke="#7fdcc9"/>
<circle cx="321.7" cy="494" r="3.94" stroke="#7fdcc9"/>
<circle cx="323.2" cy="499.7" r="3.92" stroke="#7fdcc9"/>
<circle cx="317.9" cy="517.6" r="3.95" stroke="#7fdcc9"/>
<circle cx="316" cy="522.4" r="3.96" stroke="#7fdcc9"/>
<circle cx="313.2" cy="530" r="3.98" stroke="#7fdcc9"/>
<circle cx="319.4" cy="526.7" r="3.93" stroke="#7fdcc9"/>
<circle cx="328.3" cy="530.9" r="3.86" stroke="#7fdcc9"/>
<circle cx="326.4" cy="547" r="3.88" stroke="#7fdcc9"/>
<circle cx="317.9" cy="556.4" r="3.94" stroke="#7fdcc9"/>
<circle cx="323.6" cy="555.5" r="3.90" stroke="#7fdcc9"/>
<circle cx="305.6" cy="557.4" r="4.03" stroke="#7fdcc9"/>
<circle cx="272.5" cy="559.3" r="4.28" stroke="#7fdcc9"/>
<circle cx="250.7" cy="559.3" r="4.45" stroke="#7fdcc9"/>
<circle cx="235.6" cy="559.3" r="4.56" stroke="#7fdcc9"/>
<circle cx="337.7" cy="480.7" r="3.84" stroke="#7fdcc9"/>
<circle cx="350" cy="481.5" r="3.75" stroke="#7fdcc9"/>
<circle cx="323.2" cy="493.4" r="3.93" stroke="#7fdcc9"/>
<circle cx="323.9" cy="499.7" r="3.92" stroke="#7fdcc9"/>
<circle cx="350.8" cy="496.5" r="3.72" stroke="#7fdcc9"/>
<circle cx="350" cy="501.2" r="3.72" stroke="#7fdcc9"/>
<circle cx="335" cy="506" r="3.83" stroke="#7fdcc9"/>
<circle cx="414.6" cy="485.5" r="3.28" stroke="#7fdcc9"/>
<circle cx="411.5" cy="495.7" r="3.28" stroke="#7fdcc9"/>
<circle cx="417" cy="496.5" r="3.24" stroke="#7fdcc9"/>
<circle cx="320" cy="517" r="3.93" stroke="#7fdcc9"/>
<circle cx="320.8" cy="526.5" r="3.92" stroke="#7fdcc9"/>
<circle cx="338.1" cy="515.4" r="3.80" stroke="#7fdcc9"/>
<circle cx="337.4" cy="518.6" r="3.80" stroke="#7fdcc9"/>
<circle cx="347.6" cy="524.1" r="3.72" stroke="#7fdcc9"/>
<circle cx="355.5" cy="526.5" r="3.66" stroke="#7fdcc9"/>
<circle cx="351.5" cy="530.4" r="3.69" stroke="#7fdcc9"/>
<circle cx="329.5" cy="530.4" r="3.85" stroke="#7fdcc9"/>
<circle cx="334.2" cy="534.4" r="3.82" stroke="#7fdcc9"/>
<circle cx="411.5" cy="509.1" r="3.26" stroke="#7fdcc9"/>
<circle cx="416.2" cy="507.5" r="3.23" stroke="#7fdcc9"/>
<circle cx="413.1" cy="517" r="3.24" stroke="#7fdcc9"/>
<circle cx="414.6" cy="523.3" r="3.22" stroke="#7fdcc9"/>
<circle cx="342.1" cy="535.1" r="3.76" stroke="#7fdcc9"/>
<circle cx="348.4" cy="535.1" r="3.71" stroke="#7fdcc9"/>
<circle cx="356.3" cy="535.9" r="3.65" stroke="#7fdcc9"/>
<circle cx="414.6" cy="540.7" r="3.21" stroke="#7fdcc9"/>
<circle cx="327.1" cy="545.4" r="3.87" stroke="#7fdcc9"/>
<circle cx="327.9" cy="550.1" r="3.86" stroke="#7fdcc9"/>
<circle cx="411.5" cy="545.4" r="3.24" stroke="#7fdcc9"/>
<circle cx="345.2" cy="553.3" r="3.74" stroke="#7fdcc9"/>
<circle cx="351.5" cy="553.3" r="3.69" stroke="#7fdcc9"/>
<circle cx="357.9" cy="551.7" r="3.64" stroke="#7fdcc9"/>
<circle cx="417.8" cy="554.9" r="3.19" stroke="#7fdcc9"/>
<circle cx="338.9" cy="558" r="3.78" stroke="#7fdcc9"/>
<circle cx="321.6" cy="558" r="3.91" stroke="#7fdcc9"/>
<circle cx="405.2" cy="479.5" r="3.36" stroke="#f5585e"/>
<circle cx="418.6" cy="487" r="3.24" stroke="#f5585e"/>
<circle cx="583.9" cy="135.9" r="4.87" stroke="#4e4e4e"/>
<circle cx="594.1" cy="130" r="4.91" stroke="#4e4e4e"/>
<circle cx="583.9" cy="199.8" r="4.39" stroke="#4e4e4e"/>
<circle cx="599.8" cy="151.5" r="4.75" stroke="#9757e6"/>
<circle cx="600.9" cy="158" r="4.70" stroke="#9757e6"/>
<circle cx="629.4" cy="161.9" r="4.68" stroke="#9757e6"/>
<circle cx="626.8" cy="173" r="4.60" stroke="#9757e6"/>
<circle cx="561" cy="169" r="4.64" stroke="#f6843a"/>
<circle cx="530.9" cy="215" r="4.33" stroke="#f6843a"/>
<circle cx="525.6" cy="255.6" r="4.04" stroke="#f6843a"/>
<circle cx="539.9" cy="252" r="4.04" stroke="#f6843a"/>
<circle cx="553.8" cy="262.8" r="3.95" stroke="#f6843a"/>
<circle cx="556" cy="292.8" r="3.72" stroke="#f6843a"/>
<circle cx="567.6" cy="295.9" r="3.68" stroke="#f6843a"/>
<circle cx="577.8" cy="287.8" r="3.74" stroke="#f6843a"/>
<circle cx="537.2" cy="306.6" r="3.65" stroke="#f6843a"/>
<circle cx="539" cy="306.6" r="3.65" stroke="#f6843a"/>
<circle cx="590.9" cy="233.8" r="4.14" stroke="#4e4e4e"/>
<circle cx="590" cy="244.9" r="4.05" stroke="#4e4e4e"/>
<circle cx="595.4" cy="250.8" r="4.01" stroke="#4e4e4e"/>
<circle cx="577.8" cy="252" r="4.00" stroke="#4e4e4e"/>
<circle cx="579.6" cy="261.9" r="3.93" stroke="#4e4e4e"/>
<circle cx="589.1" cy="261.9" r="3.93" stroke="#4e4e4e"/>
<circle cx="577.8" cy="269" r="3.88" stroke="#4e4e4e"/>
<circle cx="586.4" cy="268.2" r="3.88" stroke="#4e4e4e"/>
<circle cx="579.6" cy="277.1" r="3.82" stroke="#4e4e4e"/>
<circle cx="587.3" cy="275.3" r="3.83" stroke="#4e4e4e"/>
<circle cx="592.7" cy="279.8" r="3.79" stroke="#4e4e4e"/>
<circle cx="590.9" cy="283.4" r="3.76" stroke="#4e4e4e"/>
<circle cx="582.8" cy="294.1" r="3.69" stroke="#4e4e4e"/>
<circle cx="581" cy="297.7" r="3.66" stroke="#4e4e4e"/>
<circle cx="592.7" cy="292.3" r="3.70" stroke="#4e4e4e"/>
<circle cx="594.5" cy="297.7" r="3.66" stroke="#4e4e4e"/>
<circle cx="591.8" cy="302.1" r="3.62" stroke="#4e4e4e"/>
<circle cx="592.7" cy="307.5" r="3.58" stroke="#4e4e4e"/>
<circle cx="621.8" cy="219.8" r="4.25" stroke="#9757e6"/>
<circle cx="620.9" cy="224" r="4.21" stroke="#9757e6"/>
<circle cx="605.6" cy="230.6" r="4.16" stroke="#9757e6"/>
<circle cx="610" cy="236.8" r="4.11" stroke="#9757e6"/>
<circle cx="602" cy="244" r="4.06" stroke="#9757e6"/>
<circle cx="607.9" cy="246.7" r="4.04" stroke="#9757e6"/>
<circle cx="612.9" cy="246.7" r="4.04" stroke="#9757e6"/>
<circle cx="603.4" cy="253.8" r="3.99" stroke="#9757e6"/>
<circle cx="611.5" cy="253" r="3.99" stroke="#9757e6"/>
<circle cx="602" cy="262.8" r="3.92" stroke="#9757e6"/>
<circle cx="615.9" cy="261.9" r="3.93" stroke="#9757e6"/>
<circle cx="629.4" cy="262.4" r="3.93" stroke="#9757e6"/>
<circle cx="632.9" cy="271.7" r="3.87" stroke="#9757e6"/>
<circle cx="617.7" cy="272.6" r="3.85" stroke="#9757e6"/>
<circle cx="615.9" cy="278.9" r="3.80" stroke="#9757e6"/>
<circle cx="621.3" cy="278.9" r="3.80" stroke="#9757e6"/>
<circle cx="619.5" cy="283.4" r="3.77" stroke="#9757e6"/>
<circle cx="617.7" cy="286.9" r="3.74" stroke="#9757e6"/>
<circle cx="599.8" cy="286.9" r="3.74" stroke="#9757e6"/>
<circle cx="608.8" cy="285.1" r="3.75" stroke="#9757e6"/>
<circle cx="604.3" cy="290.5" r="3.71" stroke="#9757e6"/>
<circle cx="609.7" cy="291.4" r="3.70" stroke="#9757e6"/>
<circle cx="600.7" cy="294.1" r="3.68" stroke="#9757e6"/>
<circle cx="606.1" cy="297.7" r="3.66" stroke="#9757e6"/>
<circle cx="618.6" cy="296.8" r="3.67" stroke="#9757e6"/>
<circle cx="631.1" cy="288.7" r="3.74" stroke="#9757e6"/>
<circle cx="630.2" cy="297.7" r="3.67" stroke="#9757e6"/>
<circle cx="602.5" cy="303" r="3.62" stroke="#9757e6"/>
<circle cx="609.7" cy="307.5" r="3.58" stroke="#9757e6"/>
<circle cx="600.7" cy="307.5" r="3.58" stroke="#9757e6"/>
<circle cx="537.9" cy="307.1" r="3.65" stroke="#f6843a"/>
<circle cx="525.5" cy="313.8" r="3.62" stroke="#f6843a"/>
<circle cx="537" cy="316.8" r="3.58" stroke="#f6843a"/>
<circle cx="537" cy="323.8" r="3.53" stroke="#f6843a"/>
<circle cx="542.8" cy="329.7" r="3.47" stroke="#f6843a"/>
<circle cx="549.9" cy="332.7" r="3.44" stroke="#f6843a"/>
<circle cx="560.9" cy="329.1" r="3.45" stroke="#f6843a"/>
<circle cx="561.7" cy="334.4" r="3.41" stroke="#f6843a"/>
<circle cx="571.1" cy="328.3" r="3.44" stroke="#f6843a"/>
<circle cx="582.1" cy="322.1" r="3.48" stroke="#f6843a"/>
<circle cx="581.2" cy="331.8" r="3.41" stroke="#f6843a"/>
<circle cx="579.4" cy="337.1" r="3.37" stroke="#f6843a"/>
<circle cx="567" cy="338" r="3.37" stroke="#f6843a"/>
<circle cx="578.5" cy="342.4" r="3.33" stroke="#f6843a"/>
<circle cx="569.7" cy="343.3" r="3.33" stroke="#f6843a"/>
<circle cx="553.8" cy="341.5" r="3.37" stroke="#f6843a"/>
<circle cx="541.8" cy="339.7" r="3.40" stroke="#f6843a"/>
<circle cx="539.7" cy="345" r="3.37" stroke="#f6843a"/>
<circle cx="525.5" cy="345" r="3.40" stroke="#f6843a"/>
<circle cx="548.5" cy="348.6" r="3.32" stroke="#f6843a"/>
<circle cx="542.3" cy="351.2" r="3.32" stroke="#f6843a"/>
<circle cx="567" cy="350.3" r="3.28" stroke="#f6843a"/>
<circle cx="530.8" cy="353" r="3.33" stroke="#f6843a"/>
<circle cx="546.7" cy="355.6" r="3.28" stroke="#f6843a"/>
<circle cx="531.7" cy="360.1" r="3.28" stroke="#f6843a"/>
<circle cx="552" cy="360.9" r="3.23" stroke="#f6843a"/>
<circle cx="540.5" cy="363.6" r="3.23" stroke="#f6843a"/>
<circle cx="571.5" cy="364.5" r="3.17" stroke="#f6843a"/>
<circle cx="561.7" cy="366.2" r="3.17" stroke="#f6843a"/>
<circle cx="532.6" cy="368" r="3.22" stroke="#f6843a"/>
<circle cx="548.5" cy="369.8" r="3.17" stroke="#f6843a"/>
<circle cx="539.7" cy="372.4" r="3.17" stroke="#f6843a"/>
<circle cx="563.5" cy="375.1" r="3.10" stroke="#f6843a"/>
<circle cx="567.9" cy="374.2" r="3.10" stroke="#f6843a"/>
<circle cx="582.9" cy="372.1" r="3.10" stroke="#f6843a"/>
<circle cx="575" cy="383.9" r="3.02" stroke="#f6843a"/>
<circle cx="590" cy="307" r="3.59" stroke="#4e4e4e"/>
<circle cx="584.7" cy="317.7" r="3.51" stroke="#4e4e4e"/>
<circle cx="591.8" cy="322.1" r="3.47" stroke="#4e4e4e"/>
<circle cx="598" cy="323" r="3.47" stroke="#4e4e4e"/>
<circle cx="596.2" cy="330.9" r="3.41" stroke="#4e4e4e"/>
<circle cx="584.7" cy="342.4" r="3.32" stroke="#4e4e4e"/>
<circle cx="589.1" cy="347.7" r="3.28" stroke="#4e4e4e"/>
<circle cx="594.4" cy="347.7" r="3.28" stroke="#4e4e4e"/>
<circle cx="588.2" cy="354.8" r="3.23" stroke="#4e4e4e"/>
<circle cx="598.8" cy="354.8" r="3.23" stroke="#4e4e4e"/>
<circle cx="585.6" cy="362.7" r="3.17" stroke="#4e4e4e"/>
<circle cx="591.8" cy="362.7" r="3.17" stroke="#4e4e4e"/>
<circle cx="596.2" cy="362.7" r="3.17" stroke="#4e4e4e"/>
<circle cx="592.7" cy="371.5" r="3.10" stroke="#4e4e4e"/>
<circle cx="590" cy="382.1" r="3.02" stroke="#4e4e4e"/>
<circle cx="596.2" cy="382.1" r="3.02" stroke="#4e4e4e"/>
<circle cx="599.7" cy="310.6" r="3.56" stroke="#9757e6"/>
<circle cx="605" cy="307.9" r="3.58" stroke="#9757e6"/>
<circle cx="610.3" cy="307.9" r="3.58" stroke="#9757e6"/>
<circle cx="624.5" cy="314.1" r="3.54" stroke="#9757e6"/>
<circle cx="628" cy="316.8" r="3.53" stroke="#9757e6"/>
<circle cx="603.3" cy="326.5" r="3.44" stroke="#9757e6"/>
<circle cx="606.8" cy="331.8" r="3.40" stroke="#9757e6"/>
<circle cx="602.4" cy="336.2" r="3.37" stroke="#9757e6"/>
<circle cx="617.4" cy="331.8" r="3.41" stroke="#9757e6"/>
<circle cx="621.8" cy="331.8" r="3.41" stroke="#9757e6"/>
<circle cx="632.4" cy="333.6" r="3.41" stroke="#9757e6"/>
<circle cx="612.1" cy="341.5" r="3.33" stroke="#9757e6"/>
<circle cx="603.3" cy="347.7" r="3.28" stroke="#9757e6"/>
<circle cx="608.6" cy="347.7" r="3.28" stroke="#9757e6"/>
<circle cx="613.9" cy="348.6" r="3.28" stroke="#9757e6"/>
<circle cx="629.8" cy="343.3" r="3.33" stroke="#9757e6"/>
<circle cx="605.9" cy="354.8" r="3.23" stroke="#9757e6"/>
<circle cx="610.3" cy="354.8" r="3.23" stroke="#9757e6"/>
<circle cx="630.6" cy="353" r="3.26" stroke="#9757e6"/>
<circle cx="603.3" cy="361.8" r="3.18" stroke="#9757e6"/>
<circle cx="613.9" cy="362.7" r="3.17" stroke="#9757e6"/>
<circle cx="622.7" cy="363.6" r="3.17" stroke="#9757e6"/>
<circle cx="630.6" cy="365.4" r="3.17" stroke="#9757e6"/>
<circle cx="603.3" cy="371.5" r="3.10" stroke="#9757e6"/>
<circle cx="610.3" cy="371.5" r="3.10" stroke="#9757e6"/>
<circle cx="618.3" cy="372.4" r="3.10" stroke="#9757e6"/>
<circle cx="629.8" cy="373.3" r="3.11" stroke="#9757e6"/>
<circle cx="605" cy="382.1" r="3.02" stroke="#9757e6"/>
<circle cx="610.3" cy="382.1" r="3.03" stroke="#9757e6"/>
<circle cx="615.6" cy="382.1" r="3.03" stroke="#9757e6"/>
<circle cx="619.2" cy="382.7" r="3.03" stroke="#9757e6"/>
<circle cx="626.2" cy="383" r="3.03" stroke="#9757e6"/>
<circle cx="630.6" cy="384.8" r="3.03" stroke="#9757e6"/>
<circle cx="525.2" cy="377.7" r="3.18" stroke="#fcc800"/>
<circle cx="528.2" cy="386.6" r="3.11" stroke="#fcc800"/>
<circle cx="436.2" cy="492.3" r="3.11" stroke="#7fdcc9"/>
<circle cx="435.5" cy="496.1" r="3.10" stroke="#7fdcc9"/>
<circle cx="433.2" cy="507.2" r="3.10" stroke="#7fdcc9"/>
<circle cx="431.8" cy="516.1" r="3.10" stroke="#7fdcc9"/>
<circle cx="431" cy="519.1" r="3.10" stroke="#7fdcc9"/>
<circle cx="430.3" cy="525" r="3.10" stroke="#7fdcc9"/>
<circle cx="429.5" cy="529.5" r="3.10" stroke="#7fdcc9"/>
<circle cx="429.5" cy="536.9" r="3.10" stroke="#7fdcc9"/>
<circle cx="429.5" cy="541.4" r="3.10" stroke="#7fdcc9"/>
<circle cx="428.8" cy="545.8" r="3.11" stroke="#7fdcc9"/>
<circle cx="431" cy="556.2" r="3.09" stroke="#7fdcc9"/>
<circle cx="421.3" cy="487.1" r="3.22" stroke="#f5585e"/>
<circle cx="430.3" cy="482.7" r="3.17" stroke="#f5585e"/>
<circle cx="406.5" cy="479" r="3.35" stroke="#f5585e"/>
<circle cx="440.7" cy="479" r="3.11" stroke="#f5585e"/>
<circle cx="439.9" cy="489.4" r="3.09" stroke="#f5585e"/>
<circle cx="438.4" cy="493.8" r="3.09" stroke="#f5585e"/>
<circle cx="413.9" cy="486.4" r="3.28" stroke="#7fdcc9"/>
<circle cx="425.8" cy="493.1" r="3.18" stroke="#7fdcc9"/>
<circle cx="427.3" cy="496.8" r="3.16" stroke="#7fdcc9"/>
<circle cx="419.9" cy="495.3" r="3.22" stroke="#7fdcc9"/>
<circle cx="411.7" cy="495.3" r="3.28" stroke="#7fdcc9"/>
<circle cx="410.9" cy="489.4" r="3.29" stroke="#7fdcc9"/>
<circle cx="422.8" cy="479" r="3.23" stroke="#7fdcc9"/>
<circle cx="419.1" cy="499" r="3.22" stroke="#7fdcc9"/>
<circle cx="416.1" cy="507.2" r="3.23" stroke="#7fdcc9"/>
<circle cx="423.6" cy="507.2" r="3.17" stroke="#7fdcc9"/>
<circle cx="423.6" cy="511.7" r="3.16" stroke="#7fdcc9"/>
<circle cx="413.9" cy="514.6" r="3.23" stroke="#7fdcc9"/>
<circle cx="421.3" cy="518.4" r="3.17" stroke="#7fdcc9"/>
<circle cx="413.9" cy="520.6" r="3.23" stroke="#7fdcc9"/>
<circle cx="421.3" cy="523.6" r="3.17" stroke="#7fdcc9"/>
<circle cx="413.9" cy="527.3" r="3.22" stroke="#7fdcc9"/>
<circle cx="421.3" cy="529.5" r="3.17" stroke="#7fdcc9"/>
<circle cx="413.2" cy="535.4" r="3.22" stroke="#7fdcc9"/>
<circle cx="419.9" cy="536.9" r="3.17" stroke="#7fdcc9"/>
<circle cx="418.4" cy="544.4" r="3.18" stroke="#7fdcc9"/>
<circle cx="413.9" cy="548.8" r="3.22" stroke="#7fdcc9"/>
<circle cx="421.3" cy="553.3" r="3.17" stroke="#7fdcc9"/>
<circle cx="412.4" cy="556.2" r="3.23" stroke="#7fdcc9"/>
<circle cx="524.7" cy="379.1" r="3.17" stroke="#fcc800"/>
<circle cx="528.2" cy="387" r="3.10" stroke="#fcc800"/>
<circle cx="523.3" cy="389.2" r="3.10" stroke="#fcc800"/>
<circle cx="538.8" cy="382.6" r="3.10" stroke="#f6843a"/>
<circle cx="544.1" cy="380.8" r="3.10" stroke="#f6843a"/>
<circle cx="549.4" cy="379.5" r="3.10" stroke="#f6843a"/>
<circle cx="552.9" cy="378.6" r="3.10" stroke="#f6843a"/>
<circle cx="562.6" cy="375.5" r="3.10" stroke="#f6843a"/>
<circle cx="567.9" cy="374.7" r="3.10" stroke="#f6843a"/>
<circle cx="583" cy="372.7" r="3.10" stroke="#f6843a"/>
<circle cx="539.7" cy="372.9" r="3.17" stroke="#f6843a"/>
<circle cx="548.5" cy="372.4" r="3.15" stroke="#f6843a"/>
<circle cx="592.6" cy="371.6" r="3.10" stroke="#4e4e4e"/>
<circle cx="602.9" cy="371.6" r="3.10" stroke="#9757e6"/>
<circle cx="607.1" cy="371.6" r="3.10" stroke="#9757e6"/>
<circle cx="612.5" cy="372.1" r="3.10" stroke="#9757e6"/>
<circle cx="617.9" cy="372.7" r="3.10" stroke="#9757e6"/>
<circle cx="629.7" cy="374.3" r="3.10" stroke="#9757e6"/>
<circle cx="610.4" cy="395.6" r="2.92" stroke="#9757e6"/>
<circle cx="614.7" cy="395.8" r="2.93" stroke="#9757e6"/>
<circle cx="620" cy="396.6" r="2.92" stroke="#9757e6"/>
<circle cx="629.7" cy="398.5" r="2.92" stroke="#9757e6"/>
<circle cx="364.7" cy="490.6" r="3.63" stroke="#7fdcc9"/>
<circle cx="373" cy="498.9" r="3.56" stroke="#7fdcc9"/>
<circle cx="377" cy="499.3" r="3.53" stroke="#7fdcc9"/>
<circle cx="368.7" cy="477.6" r="3.62" stroke="#7fdcc9"/>
<circle cx="380.5" cy="482.3" r="3.53" stroke="#7fdcc9"/>
<circle cx="389.2" cy="482.7" r="3.46" stroke="#7fdcc9"/>
<circle cx="397.9" cy="480.7" r="3.41" stroke="#7fdcc9"/>
<circle cx="383.7" cy="479.2" r="3.51" stroke="#7fdcc9"/>
<circle cx="391.5" cy="479.2" r="3.46" stroke="#7fdcc9"/>
<circle cx="401" cy="487" r="3.37" stroke="#7fdcc9"/>
<circle cx="406.5" cy="487.8" r="3.33" stroke="#7fdcc9"/>
<circle cx="402.6" cy="491.8" r="3.35" stroke="#7fdcc9"/>
<circle cx="407.3" cy="491" r="3.32" stroke="#7fdcc9"/>
<circle cx="400.2" cy="493" r="3.37" stroke="#7fdcc9"/>
<circle cx="387.6" cy="504.8" r="3.44" stroke="#7fdcc9"/>
<circle cx="393.1" cy="502.8" r="3.40" stroke="#7fdcc9"/>
<circle cx="392.3" cy="509.1" r="3.40" stroke="#7fdcc9"/>
<circle cx="397.1" cy="507.5" r="3.37" stroke="#7fdcc9"/>
<circle cx="402.6" cy="503.6" r="3.33" stroke="#7fdcc9"/>
<circle cx="406.5" cy="507.5" r="3.30" stroke="#7fdcc9"/>
<circle cx="403.4" cy="509.9" r="3.32" stroke="#7fdcc9"/>
<circle cx="408.9" cy="502" r="3.29" stroke="#7fdcc9"/>
<circle cx="407.3" cy="512.3" r="3.28" stroke="#7fdcc9"/>
<circle cx="401" cy="515.4" r="3.33" stroke="#7fdcc9"/>
<circle cx="397.9" cy="518.6" r="3.35" stroke="#7fdcc9"/>
<circle cx="362.4" cy="512.3" r="3.62" stroke="#7fdcc9"/>
<circle cx="370.3" cy="517.8" r="3.55" stroke="#7fdcc9"/>
<circle cx="382.9" cy="517" r="3.46" stroke="#7fdcc9"/>
<circle cx="386.8" cy="518.6" r="3.43" stroke="#7fdcc9"/>
<circle cx="409.7" cy="485.5" r="3.31" stroke="#7fdcc9"/>
<circle cx="409.7" cy="494.1" r="3.29" stroke="#7fdcc9"/>
<circle cx="369.5" cy="520.9" r="3.56" stroke="#7fdcc9"/>
<circle cx="376.6" cy="528.4" r="3.50" stroke="#7fdcc9"/>
<circle cx="383.7" cy="527.6" r="3.45" stroke="#7fdcc9"/>
<circle cx="390" cy="526" r="3.40" stroke="#7fdcc9"/>
<circle cx="395.1" cy="526.8" r="3.36" stroke="#7fdcc9"/>
<circle cx="401" cy="518.9" r="3.33" stroke="#7fdcc9"/>
<circle cx="407.3" cy="518.2" r="3.28" stroke="#7fdcc9"/>
<circle cx="406.5" cy="527.2" r="3.28" stroke="#7fdcc9"/>
<circle cx="394.7" cy="533.5" r="3.36" stroke="#7fdcc9"/>
<circle cx="382.9" cy="533.9" r="3.45" stroke="#7fdcc9"/>
<circle cx="387.6" cy="538.7" r="3.42" stroke="#7fdcc9"/>
<circle cx="380.5" cy="540.2" r="3.47" stroke="#7fdcc9"/>
<circle cx="372.6" cy="535.5" r="3.53" stroke="#7fdcc9"/>
<circle cx="365.9" cy="538.3" r="3.58" stroke="#7fdcc9"/>
<circle cx="405.3" cy="537.9" r="3.28" stroke="#7fdcc9"/>
<circle cx="372.6" cy="545" r="3.53" stroke="#7fdcc9"/>
<circle cx="366.3" cy="550.9" r="3.58" stroke="#7fdcc9"/>
<circle cx="373" cy="551.3" r="3.53" stroke="#7fdcc9"/>
<circle cx="384.4" cy="552.1" r="3.44" stroke="#7fdcc9"/>
<circle cx="389.6" cy="554.4" r="3.40" stroke="#7fdcc9"/>
<circle cx="394.7" cy="547.7" r="3.36" stroke="#7fdcc9"/>
<circle cx="399.4" cy="545" r="3.33" stroke="#7fdcc9"/>
<circle cx="405.7" cy="547.3" r="3.28" stroke="#7fdcc9"/>
<circle cx="401" cy="555.2" r="3.32" stroke="#7fdcc9"/>
<circle cx="407.3" cy="554.4" r="3.27" stroke="#7fdcc9"/>
<circle cx="360.8" cy="529.2" r="3.62" stroke="#7fdcc9"/>
<circle cx="361.6" cy="515.8" r="3.62" stroke="#7fdcc9"/>
<circle cx="386" cy="516.6" r="3.44" stroke="#7fdcc9"/>
<circle cx="379.7" cy="517.4" r="3.49" stroke="#7fdcc9"/></g>
</svg>
<div id="hdr">11,411 artworks were acquired on 6th October 1964</div>
<div id="flux">FLUXUS</div>
<div id="ph">PHOTOGRAPHY</div>
<div id="box">
<div id="intro"><b>11,411</b> artworks have an acquisition date of <b>6th October 1964</b>.&nbsp; The<br>top 20 artists by number of acquisitions on this day is shown below:</div>
<div id="rows"><div class="row" style="top:57.70px"><div class="nm">Marc Chagall</div><div class="val" style="left:323.0px">964</div></div><div class="bar" style="top:63px;width:148.0px"></div>
<div class="row" style="top:74.75px"><div class="nm">Pierre Bonnard</div><div class="val" style="left:300.6px">818</div></div><div class="bar" style="top:80px;width:125.6px"></div>
<div class="row" style="top:91.80px"><div class="nm">Pablo Picasso</div><div class="val" style="left:281.2px">692</div></div><div class="bar" style="top:97px;width:106.2px"></div>
<div class="row" style="top:108.85px"><div class="nm">Émile Bernard</div><div class="val" style="left:270.8px">624</div></div><div class="bar" style="top:114px;width:95.8px"></div>
<div class="row" style="top:125.90px"><div class="nm">Henri Matisse</div><div class="val" style="left:256.8px">533</div></div><div class="bar" style="top:131px;width:81.8px"></div>
<div class="row" style="top:142.95px"><div class="nm">André Derain</div><div class="val" style="left:256.7px">532</div></div><div class="bar" style="top:148px;width:81.7px"></div>
<div class="row" style="top:160.00px"><div class="nm">Raoul Dufy</div><div class="val" style="left:252.8px">507</div></div><div class="bar" style="top:165px;width:77.8px"></div>
<div class="row" style="top:177.05px"><div class="nm">Aristide Maillol</div><div class="val" style="left:252.5px">505</div></div><div class="bar" style="top:182px;width:77.5px"></div>
<div class="row" style="top:194.10px"><div class="nm">Georges Rouault</div><div class="val" style="left:239.3px">419</div></div><div class="bar" style="top:199px;width:64.3px"></div>
<div class="row" style="top:211.15px"><div class="nm">Maurice Denis</div><div class="val" style="left:236.9px">403</div></div><div class="bar" style="top:216px;width:61.9px"></div>
<div class="row" style="top:228.20px"><div class="nm">Thomas Bewick</div><div class="val" style="left:224.7px">324</div></div><div class="bar" style="top:233px;width:49.7px"></div>
<div class="row" style="top:245.25px"><div class="nm">André Dunoyer de Segonzac</div><div class="val" style="left:214.1px">255</div></div><div class="bar" style="top:251px;width:39.1px"></div>
<div class="row" style="top:262.30px"><div class="nm">Joan Miró</div><div class="val" style="left:205.1px">196</div></div><div class="bar" style="top:268px;width:30.1px"></div>
<div class="row" style="top:279.35px"><div class="nm">Francisco de Goya</div><div class="val" style="left:202.8px">181</div></div><div class="bar" style="top:285px;width:27.8px"></div>
<div class="row" style="top:296.40px"><div class="nm">Henri Laurens</div><div class="val" style="left:197.9px">149</div></div><div class="bar" style="top:302px;width:22.9px"></div>
<div class="row" style="top:313.45px"><div class="nm">Alexander Calder</div><div class="val" style="left:197.3px">145</div></div><div class="bar" style="top:319px;width:22.3px"></div>
<div class="row" style="top:330.50px"><div class="nm">Fernand Léger</div><div class="val" style="left:194.5px">127</div></div><div class="bar" style="top:336px;width:19.5px"></div>
<div class="row" style="top:347.55px"><div class="nm">George Grosz</div><div class="val" style="left:194.2px">125</div></div><div class="bar" style="top:353px;width:19.2px"></div>
<div class="row" style="top:364.60px"><div class="nm">Le Corbusier (Charles-Édou..</div><div class="val" style="left:193.7px">122</div></div><div class="bar" style="top:370px;width:18.7px"></div>
<div class="row" style="top:381.65px"><div class="nm">Kees van Dongen</div><div class="val" style="left:193.4px">120</div></div><div class="bar" style="top:387px;width:18.4px"></div></div>
</div>
</body></html>
